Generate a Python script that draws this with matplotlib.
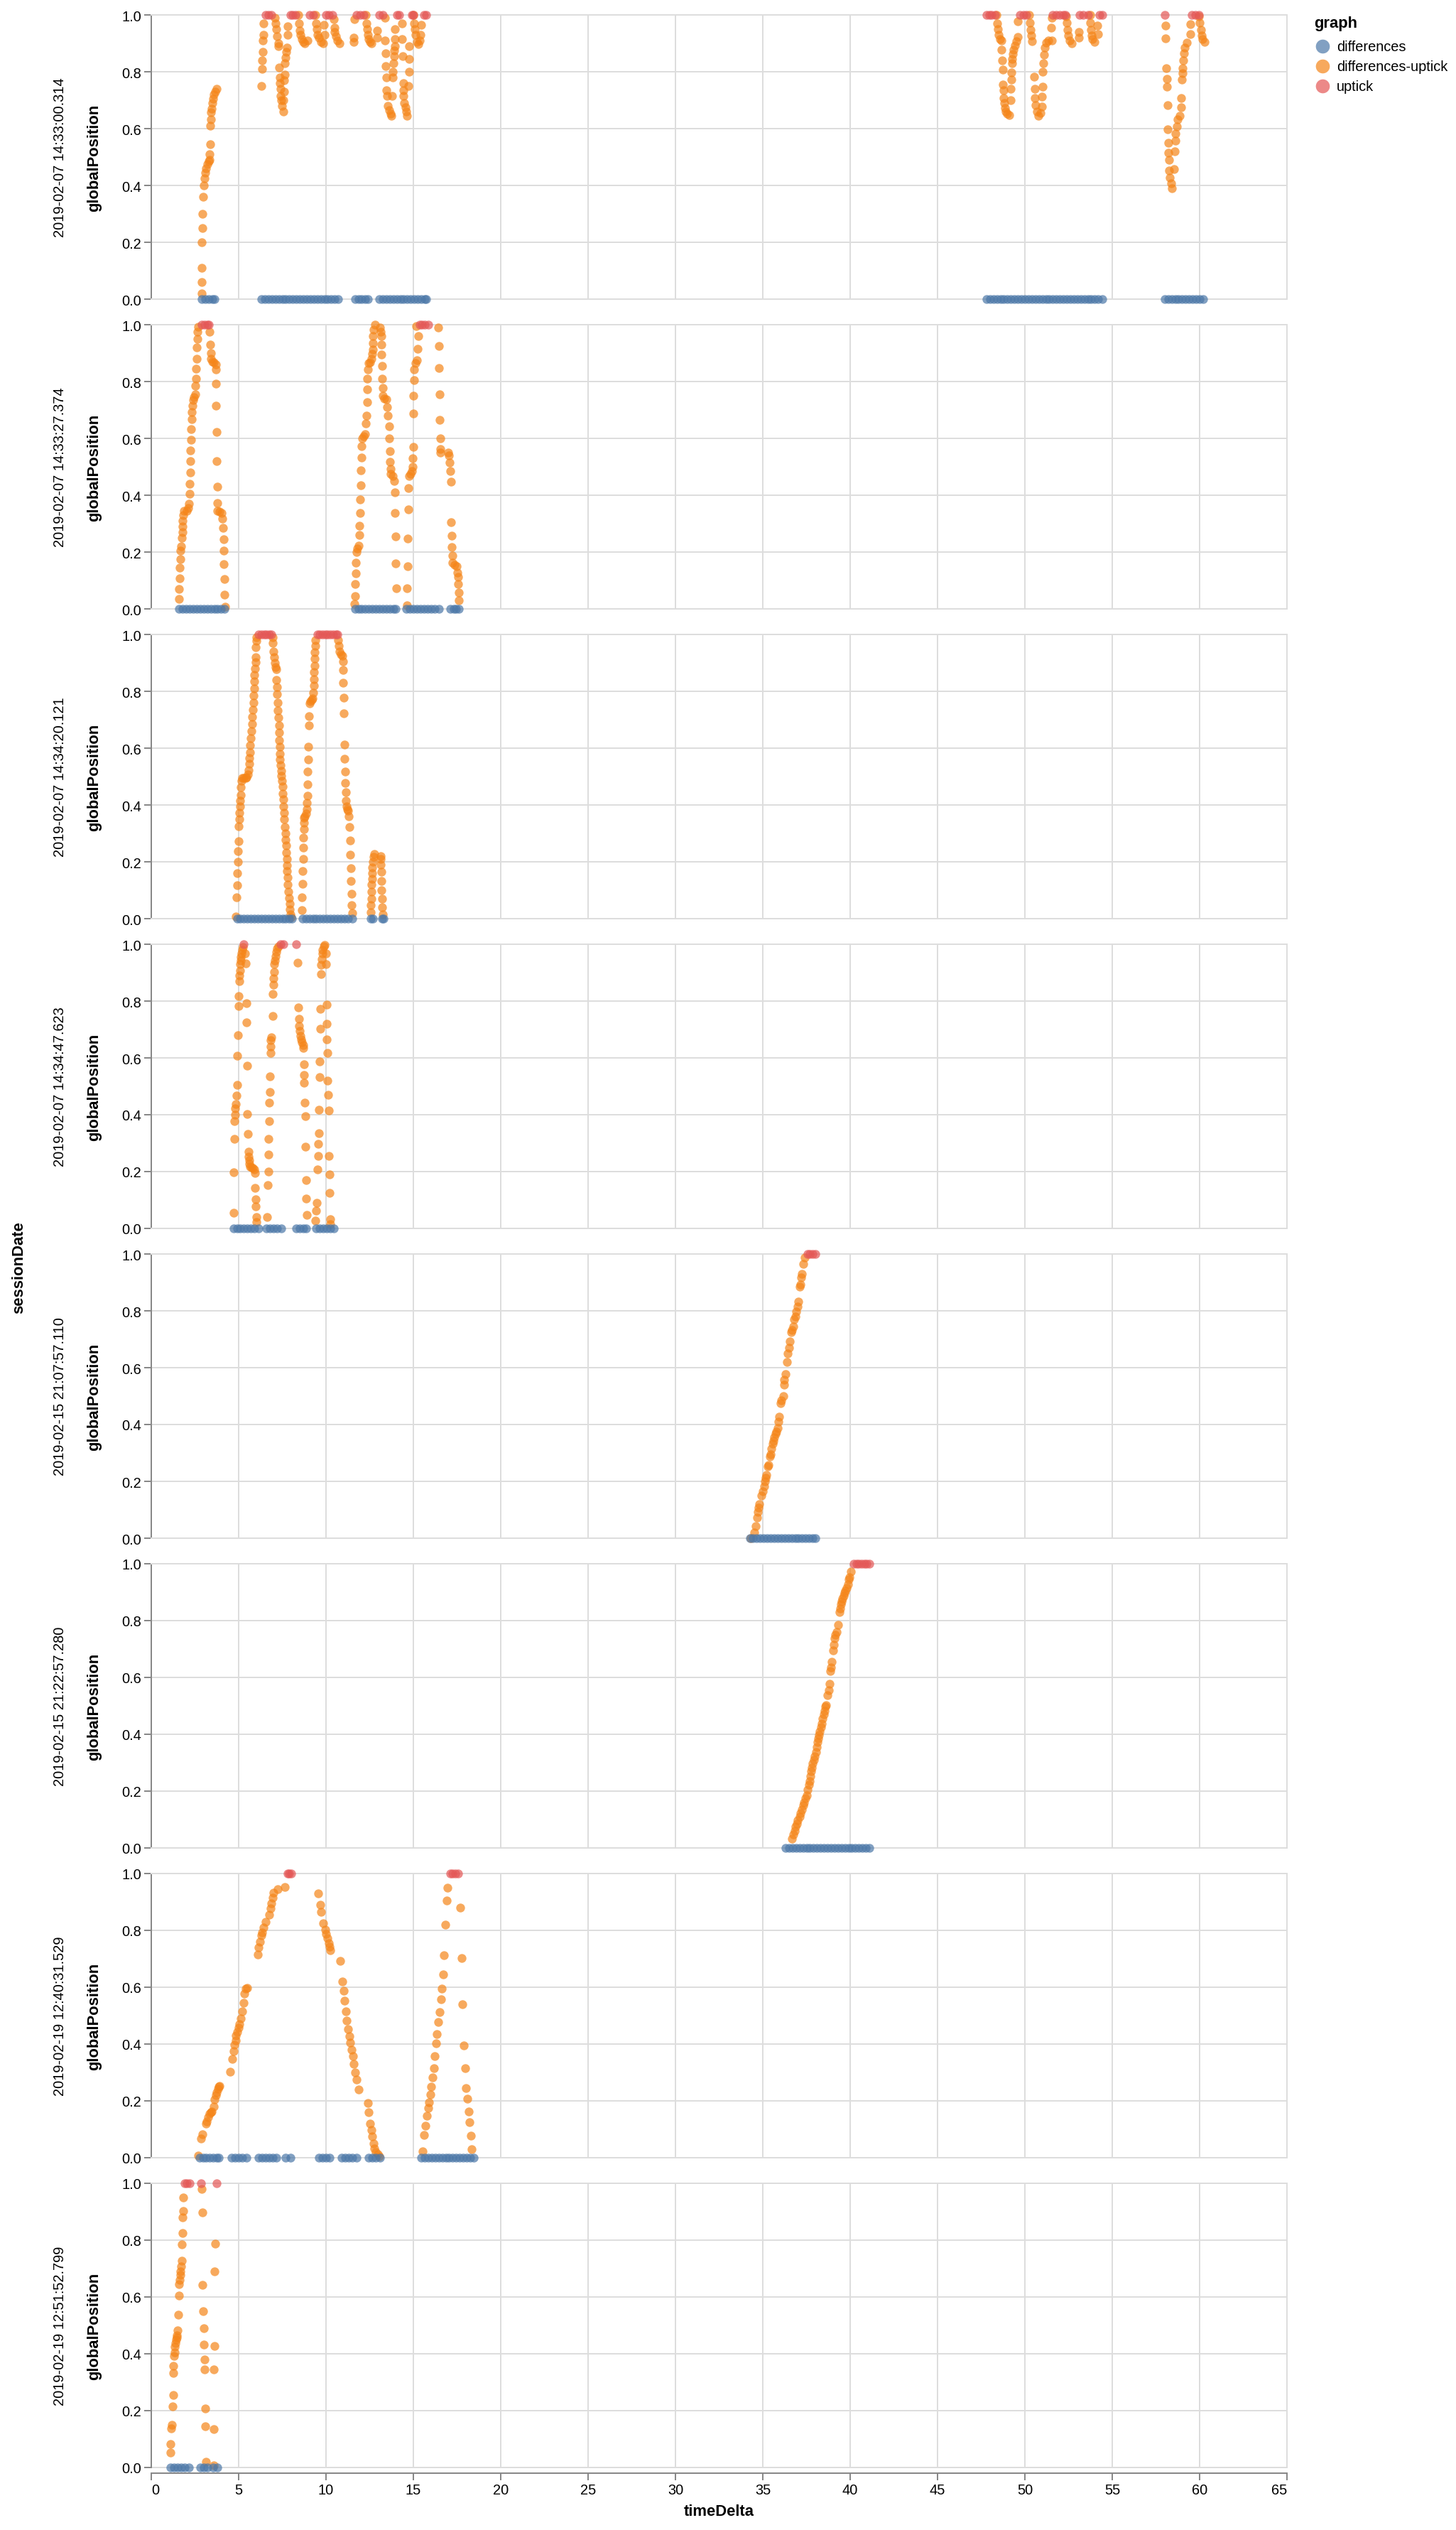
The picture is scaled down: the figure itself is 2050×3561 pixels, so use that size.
import numpy as np
import matplotlib
matplotlib.use("Agg")
import matplotlib.pyplot as plt

plt.rcParams["font.family"] = ["Liberation Sans", "DejaVu Sans"]

# ------- data -------
SESSIONS = [
    "2019-02-07 14:33:00.314",
    "2019-02-07 14:33:27.374",
    "2019-02-07 14:34:20.121",
    "2019-02-07 14:34:47.623",
    "2019-02-15 21:07:57.110",
    "2019-02-15 21:22:57.280",
    "2019-02-19 12:40:31.529",
    "2019-02-19 12:51:52.799",
]
GRAPHS = ["differences", "differences-uptick", "uptick"]
COLORS = {"differences": "#4c78a8", "differences-uptick": "#f58518", "uptick": "#e45756"}

X_TICKS = [0, 5, 10, 15, 20, 25, 30, 35, 40, 45, 50, 55, 60, 65]
Y_TICKS = [0.0, 0.2, 0.4, 0.6, 0.8, 1.0]

# "differences" points (all at globalPosition 0)
S1_DIFF = [2.9, 3.1, 3.3, 3.5, 3.6,
           6.3, 6.5, 6.7, 6.9, 7.1, 7.3, 7.5, 7.7, 7.9, 8.1, 8.3, 8.5, 8.7, 8.9, 9.1, 9.3, 9.5,
           9.7, 9.9, 10.1, 10.3, 10.5, 10.7,
           11.65, 11.85, 12.05, 12.25, 12.4,
           13.05, 13.25, 13.45, 13.65, 13.85, 14.05, 14.25, 14.45, 14.65, 14.85, 15.05, 15.25,
           15.45, 15.65, 15.75,
           47.8, 48.0, 48.2, 48.4, 48.6, 48.8, 49.0, 49.2, 49.4, 49.6, 49.8, 50.0, 50.2, 50.4,
           50.6, 50.8, 51.0, 51.2, 51.4, 51.6, 51.8, 52.0, 52.2, 52.4, 52.6, 52.8, 53.0, 53.2,
           53.4, 53.6, 53.8, 54.0, 54.2, 54.45,
           58.0, 58.2, 58.4, 58.6, 58.8, 59.0, 59.2, 59.4, 59.6, 59.8, 60.0, 60.2]
S2_DIFF = [1.6, 1.8, 2.0, 2.2, 2.4, 2.6, 2.8, 3.0, 3.2, 3.4, 3.6, 3.8, 4.0, 4.18,
           11.65, 11.85, 12.05, 12.25, 12.45, 12.65, 12.85, 13.05, 13.25, 13.45, 13.65, 13.85, 14.0,
           14.6, 14.8, 15.0, 15.2, 15.4, 15.6, 15.8, 16.0, 16.2, 16.45,
           17.1, 17.3, 17.45, 17.6]
S3_DIFF = [4.9, 5.1, 5.3, 5.5, 5.7, 5.9, 6.1, 6.3, 6.5, 6.7, 6.9, 7.1, 7.3, 7.5, 7.7, 7.9, 8.05,
           8.65, 8.85, 9.05, 9.25, 9.45, 9.65, 9.85, 10.05, 10.25, 10.45, 10.65, 10.85, 11.05,
           11.25, 11.5,
           12.55, 12.7, 13.2, 13.3]
S4_DIFF = [4.7, 4.9, 5.1, 5.3, 5.5, 5.7, 5.9, 6.15,
           6.6, 6.8, 7.0, 7.2, 7.45,
           8.3, 8.5, 8.7, 8.85,
           9.45, 9.65, 9.85, 10.05, 10.25, 10.45]
S5_DIFF = [34.25, 34.45, 34.65, 34.85, 35.05, 35.25, 35.45, 35.65, 35.85, 36.05, 36.25, 36.45,
           36.65, 36.85, 37.05, 37.25, 37.45, 37.65, 37.85, 38.0]
S6_DIFF = [36.3, 36.5, 36.7, 36.9, 37.1, 37.3, 37.5, 37.7, 37.9, 38.1, 38.3, 38.5, 38.7, 38.9,
           39.1, 39.3, 39.5, 39.7, 39.9, 40.1, 40.3, 40.5, 40.7, 40.9, 41.1]
S7_DIFF = [2.75, 2.95, 3.15, 3.35, 3.55, 3.75, 3.85,
           4.6, 4.8, 5.0, 5.2, 5.45,
           6.15, 6.35, 6.55, 6.75, 6.95, 7.15,
           7.7, 7.95,
           9.6, 9.8, 10.0, 10.2,
           10.9, 11.1, 11.3, 11.5, 11.75,
           12.45, 12.65, 12.85, 13.1,
           15.45, 15.65, 15.85, 16.05, 16.25, 16.45, 16.65, 16.85, 17.05, 17.25, 17.45, 17.65,
           17.85, 18.05, 18.25, 18.45]
S8_DIFF = [1.1, 1.3, 1.5, 1.7, 1.9, 2.15, 2.8, 3.0, 3.2, 3.55, 3.8]

# "uptick" points (all at globalPosition 1)
S1_UP = [6.55, 6.7, 6.85, 7.95, 8.1, 8.25, 9.05, 9.25, 10.0, 10.15, 10.35, 11.75, 11.95, 12.15,
         13.05, 13.25, 14.05, 14.2, 14.9, 15.0, 15.6, 15.75,
         47.8, 47.95, 48.1, 48.3, 49.7, 49.9, 50.1, 51.6, 51.8, 52.0, 52.2, 52.3,
         53.15, 53.35, 53.6, 54.25, 54.45, 58.0, 59.55, 59.75, 59.95]
S2_UP = [2.9, 3.05, 3.2, 3.3, 15.35, 15.5, 15.65, 15.85]
S3_UP = [6.15, 6.3, 6.45, 6.6, 6.75, 6.88, 9.5, 9.65, 9.8, 9.95, 10.1, 10.25, 10.4, 10.55, 10.65]
S4_UP = [5.3, 7.4, 7.55, 8.3]
S5_UP = [37.55, 37.7, 37.85, 38.0]
S6_UP = [40.2, 40.35, 40.5, 40.65, 40.8, 40.95, 41.1]
S7_UP = [7.8, 7.9, 8.0, 17.1, 17.25, 17.4, 17.55]
S8_UP = [1.9, 2.05, 2.2, 2.85, 3.76]

# "differences-uptick" points (timeDelta, globalPosition)
S1_DIFF_UP = [
    (2.88, 0.02), (2.87, 0.06), (2.87, 0.11), (2.9, 0.20), (2.92, 0.25), (2.93, 0.30),
    (2.97, 0.36), (3.0, 0.40), (3.04, 0.425), (3.09, 0.445), (3.14, 0.46), (3.21, 0.475),
    (3.28, 0.485), (3.32, 0.49), (3.35, 0.51), (3.37, 0.545), (3.39, 0.61), (3.41, 0.633),
    (3.43, 0.657), (3.45, 0.67), (3.48, 0.69), (3.54, 0.705), (3.59, 0.72), (3.66, 0.73),
    (3.73, 0.74),
    (6.3, 0.75), (6.33, 0.81), (6.35, 0.84), (6.37, 0.87), (6.4, 0.91), (6.42, 0.93), (6.44, 0.97),
    (7.08, 0.99), (7.12, 0.97), (7.15, 0.95), (7.2, 0.925), (7.26, 0.90), (7.29, 0.89),
    (7.33, 0.815), (7.35, 0.78), (7.37, 0.76), (7.38, 0.74), (7.4, 0.715), (7.44, 0.70),
    (7.47, 0.68), (7.55, 0.66), (7.58, 0.70), (7.6, 0.73), (7.62, 0.77), (7.64, 0.79),
    (7.66, 0.83), (7.69, 0.85), (7.73, 0.87), (7.77, 0.885), (7.79, 0.96), (7.81, 0.93),
    (8.41, 1.0), (8.45, 0.97), (8.49, 0.945), (8.52, 0.93), (8.6, 0.915), (8.68, 0.905),
    (8.77, 0.90), (8.95, 0.91),
    (9.4, 1.0), (9.44, 0.97), (9.47, 0.95), (9.53, 0.93), (9.6, 0.92), (9.71, 0.905),
    (9.82, 0.90), (9.89, 0.965), (9.91, 0.93),
    (10.43, 0.985), (10.47, 0.955), (10.5, 0.94), (10.58, 0.925), (10.65, 0.91), (10.76, 0.90),
    (11.58, 0.92), (11.58, 0.905), (11.62, 0.985),
    (12.29, 1.0), (12.33, 0.97), (12.35, 0.95), (12.38, 0.93), (12.44, 0.915), (12.51, 0.905),
    (12.6, 0.90), (12.92, 0.945), (12.92, 0.92),
    (13.37, 0.99), (13.39, 0.91), (13.41, 0.865), (13.43, 0.82), (13.44, 0.78), (13.46, 0.735),
    (13.48, 0.715), (13.53, 0.68), (13.6, 0.665), (13.68, 0.653), (13.73, 0.645), (13.78, 0.715),
    (13.82, 0.78), (13.84, 0.80), (13.86, 0.83), (13.89, 0.855), (13.91, 0.875), (13.93, 0.89),
    (13.95, 0.915), (13.95, 0.95),
    (14.36, 0.97), (14.36, 0.915), (14.4, 0.855), (14.42, 0.76), (14.44, 0.735), (14.45, 0.715),
    (14.49, 0.69), (14.54, 0.675), (14.6, 0.66), (14.65, 0.645), (14.72, 0.75), (14.74, 0.80),
    (14.76, 0.845), (14.77, 0.89),
    (15.0, 1.0), (15.04, 0.97), (15.07, 0.95), (15.13, 0.93), (15.2, 0.905), (15.27, 0.898),
    (15.36, 0.91), (15.41, 0.93), (15.44, 0.965),
    (48.38, 1.0), (48.41, 0.97), (48.44, 0.95), (48.5, 0.93), (48.58, 0.915), (48.67, 0.91),
    (48.67, 0.877), (48.71, 0.84), (48.74, 0.807), (48.75, 0.755), (48.78, 0.735), (48.8, 0.708),
    (48.83, 0.69), (48.87, 0.673), (48.92, 0.66), (49.0, 0.653), (49.09, 0.647), (49.18, 0.70),
    (49.2, 0.74), (49.21, 0.773), (49.22, 0.797), (49.25, 0.83), (49.28, 0.845), (49.3, 0.863),
    (49.35, 0.877), (49.42, 0.893), (49.51, 0.908), (49.58, 0.923), (49.6, 0.977),
    (50.26, 1.0), (50.29, 0.973), (50.31, 0.948), (50.37, 0.928), (50.42, 0.907), (50.52, 0.782),
    (50.56, 0.74), (50.58, 0.707), (50.62, 0.682), (50.69, 0.66), (50.77, 0.644), (50.9, 0.654),
    (50.96, 0.678), (50.98, 0.713), (51.0, 0.748), (51.03, 0.80), (51.06, 0.83), (51.09, 0.86),
    (51.14, 0.886), (51.21, 0.903), (51.34, 0.91), (51.55, 0.91), (51.52, 0.955), (51.55, 0.99),
    (52.36, 0.994), (52.39, 0.973), (52.43, 0.948), (52.49, 0.928), (52.57, 0.91), (52.68, 0.90),
    (53.07, 0.94), (53.07, 0.92),
    (53.72, 1.0), (53.75, 0.973), (53.77, 0.948), (53.82, 0.928), (53.88, 0.915), (53.97, 0.904),
    (54.16, 0.963), (54.17, 0.932),
    (58.03, 0.963), (58.06, 0.917), (58.1, 0.813), (58.11, 0.775), (58.12, 0.748), (58.16, 0.682),
    (58.19, 0.598), (58.22, 0.55), (58.23, 0.515), (58.26, 0.49), (58.27, 0.452), (58.31, 0.428),
    (58.37, 0.407), (58.43, 0.39), (58.52, 0.457), (58.57, 0.519), (58.6, 0.557), (58.63, 0.582),
    (58.68, 0.607), (58.75, 0.632), (58.85, 0.644), (58.93, 0.675), (58.96, 0.707), (58.98, 0.773),
    (59.01, 0.794), (59.02, 0.813), (59.05, 0.84), (59.09, 0.865), (59.16, 0.886), (59.25, 0.903),
    (59.46, 0.932), (59.48, 0.967), (59.97, 0.994), (60.01, 0.973), (60.07, 0.948), (60.12, 0.928),
    (60.18, 0.915), (60.27, 0.904),
]
S2_DIFF_UP = [
    (1.57, 0.034), (1.6, 0.07), (1.62, 0.108), (1.64, 0.146), (1.66, 0.175), (1.68, 0.205),
    (1.69, 0.22), (1.75, 0.25), (1.77, 0.27), (1.78, 0.29), (1.8, 0.31), (1.84, 0.33),
    (1.89, 0.345), (2.02, 0.345), (2.11, 0.355), (2.16, 0.37), (2.18, 0.405), (2.2, 0.44),
    (2.22, 0.48), (2.23, 0.52), (2.25, 0.558), (2.27, 0.595), (2.29, 0.633), (2.31, 0.668),
    (2.32, 0.693), (2.34, 0.714), (2.4, 0.735), (2.45, 0.744), (2.5, 0.756), (2.54, 0.786),
    (2.56, 0.81), (2.58, 0.845), (2.59, 0.88), (2.61, 0.92), (2.63, 0.95), (2.65, 0.976),
    (2.67, 0.993),
    (3.33, 0.976), (3.37, 0.93), (3.41, 0.90), (3.42, 0.88), (3.5, 0.87), (3.59, 0.867),
    (3.68, 0.86), (3.7, 0.842), (3.71, 0.792), (3.71, 0.714), (3.73, 0.622), (3.75, 0.52),
    (3.77, 0.43), (3.78, 0.372), (3.8, 0.346), (3.91, 0.342), (4.02, 0.338), (4.07, 0.317),
    (4.09, 0.284), (4.13, 0.246), (4.14, 0.206), (4.16, 0.157), (4.18, 0.104), (4.2, 0.05),
    (4.22, 0.008),
    (11.62, 0.017), (11.66, 0.045), (11.68, 0.087), (11.7, 0.125), (11.71, 0.163), (11.75, 0.2),
    (11.8, 0.213), (11.89, 0.222), (11.91, 0.26), (11.93, 0.293), (11.95, 0.337), (11.96, 0.385),
    (11.98, 0.435), (12.0, 0.487), (12.02, 0.533), (12.04, 0.573), (12.07, 0.60), (12.16, 0.607),
    (12.25, 0.616), (12.29, 0.652), (12.32, 0.681), (12.34, 0.727), (12.36, 0.772), (12.37, 0.811),
    (12.39, 0.843), (12.43, 0.864), (12.52, 0.868), (12.59, 0.88), (12.63, 0.897), (12.67, 0.913),
    (12.68, 0.934), (12.7, 0.959), (12.74, 0.983), (12.79, 1.0),
    (13.1, 0.99), (13.12, 0.975), (13.16, 0.96), (13.17, 0.93), (13.19, 0.895), (13.21, 0.855),
    (13.23, 0.811), (13.24, 0.778), (13.26, 0.749), (13.32, 0.74), (13.46, 0.737), (13.5, 0.71),
    (13.55, 0.68), (13.6, 0.643), (13.62, 0.601), (13.64, 0.555), (13.66, 0.517), (13.68, 0.492),
    (13.71, 0.476), (13.82, 0.467), (13.91, 0.45), (13.95, 0.41), (13.96, 0.338), (13.98, 0.255),
    (14.0, 0.159), (14.04, 0.073),
    (14.63, 0.013), (14.65, 0.073), (14.67, 0.15), (14.68, 0.247), (14.7, 0.35), (14.72, 0.424),
    (14.76, 0.467), (14.85, 0.474), (14.92, 0.484), (14.94, 0.5), (14.97, 0.53), (14.99, 0.57),
    (15.0, 0.687), (15.02, 0.75), (15.04, 0.805), (15.06, 0.843), (15.11, 0.864), (15.22, 0.875),
    (15.26, 0.915), (15.28, 0.96), (15.18, 0.995),
    (16.43, 0.99), (16.47, 0.925), (16.48, 0.847), (16.5, 0.755), (16.52, 0.666), (16.54, 0.60),
    (16.56, 0.563), (16.56, 0.55), (17.0, 0.551), (17.04, 0.54), (17.07, 0.514), (17.11, 0.485),
    (17.14, 0.447), (17.16, 0.306), (17.18, 0.258), (17.2, 0.217), (17.22, 0.187), (17.25, 0.162),
    (17.34, 0.154), (17.46, 0.15), (17.5, 0.128), (17.55, 0.112), (17.58, 0.087), (17.6, 0.058),
    (17.62, 0.029),
]
S3_DIFF_UP = [
    (4.85, 0.007), (4.88, 0.075), (4.91, 0.117), (4.93, 0.16), (4.96, 0.2), (4.96, 0.237),
    (4.99, 0.272), (5.01, 0.325), (5.03, 0.35), (5.05, 0.373), (5.07, 0.394), (5.09, 0.415),
    (5.12, 0.436), (5.13, 0.463), (5.16, 0.486), (5.22, 0.494), (5.3, 0.494), (5.39, 0.496),
    (5.46, 0.498), (5.51, 0.507), (5.55, 0.523), (5.59, 0.544), (5.62, 0.565), (5.65, 0.586),
    (5.67, 0.61), (5.7, 0.636), (5.73, 0.66), (5.76, 0.686), (5.78, 0.71), (5.81, 0.736),
    (5.84, 0.76), (5.86, 0.785), (5.88, 0.81), (5.89, 0.836), (5.9, 0.858), (5.93, 0.88),
    (5.96, 0.902), (5.97, 0.92), (5.98, 0.954), (6.0, 0.978), (6.02, 0.99),
    (6.94, 0.99), (6.97, 0.97), (6.99, 0.94), (7.02, 0.92), (7.06, 0.90), (7.1, 0.886),
    (7.14, 0.877), (7.17, 0.84), (7.18, 0.815), (7.2, 0.79), (7.22, 0.76), (7.25, 0.733),
    (7.28, 0.707), (7.3, 0.68), (7.32, 0.655), (7.33, 0.628), (7.34, 0.604), (7.36, 0.581),
    (7.37, 0.56), (7.4, 0.54), (7.42, 0.52), (7.45, 0.503), (7.48, 0.486), (7.51, 0.465),
    (7.53, 0.44), (7.55, 0.42), (7.57, 0.394), (7.59, 0.373), (7.61, 0.35), (7.64, 0.323),
    (7.67, 0.30), (7.69, 0.277), (7.71, 0.257), (7.72, 0.233), (7.75, 0.21), (7.76, 0.187),
    (7.78, 0.167), (7.8, 0.144), (7.82, 0.12), (7.86, 0.094), (7.88, 0.073), (7.91, 0.052),
    (7.94, 0.032), (7.96, 0.015), (7.99, 0.004),
    (8.6, 0.03), (8.63, 0.075), (8.65, 0.122), (8.67, 0.167), (8.68, 0.21), (8.68, 0.25),
    (8.69, 0.285), (8.72, 0.315), (8.73, 0.337), (8.76, 0.354), (8.8, 0.36), (8.87, 0.37),
    (8.9, 0.386), (8.92, 0.407), (8.94, 0.432), (8.95, 0.473), (8.96, 0.518), (8.98, 0.56),
    (8.99, 0.604), (9.02, 0.68), (9.04, 0.713), (9.07, 0.758), (9.12, 0.766), (9.18, 0.77),
    (9.23, 0.774), (9.26, 0.796), (9.29, 0.82), (9.3, 0.843), (9.31, 0.868), (9.33, 0.89),
    (9.34, 0.915), (9.35, 0.938), (9.37, 0.96), (9.39, 0.98),
    (10.71, 0.98), (10.75, 0.96), (10.78, 0.94), (10.85, 0.93), (10.93, 0.925), (10.96, 0.906),
    (10.97, 0.875), (10.98, 0.83), (11.0, 0.778), (11.01, 0.722), (11.04, 0.612), (11.07, 0.563),
    (11.08, 0.518), (11.09, 0.478), (11.12, 0.444), (11.15, 0.415), (11.16, 0.394), (11.2, 0.386),
    (11.28, 0.381), (11.32, 0.36), (11.35, 0.322), (11.37, 0.275), (11.4, 0.225), (11.43, 0.178),
    (11.44, 0.132), (11.45, 0.088), (11.48, 0.048), (11.5, 0.019),
    (12.56, 0.023), (12.57, 0.048), (12.59, 0.07), (12.6, 0.094), (12.61, 0.12), (12.63, 0.14),
    (12.64, 0.16), (12.65, 0.18), (12.68, 0.2), (12.71, 0.218), (12.76, 0.227),
    (13.11, 0.22), (13.14, 0.21), (13.15, 0.19), (13.16, 0.164), (13.18, 0.132), (13.19, 0.1),
    (13.21, 0.069), (13.22, 0.04), (13.25, 0.015),
]
S4_DIFF_UP = [
    (4.7, 0.054), (4.72, 0.197), (4.75, 0.314), (4.76, 0.378), (4.79, 0.40), (4.8, 0.422),
    (4.84, 0.437), (4.87, 0.468), (4.9, 0.506), (4.93, 0.608), (4.95, 0.679), (4.98, 0.782),
    (5.01, 0.818), (5.03, 0.87), (5.05, 0.89), (5.07, 0.907), (5.1, 0.93), (5.11, 0.943),
    (5.14, 0.956), (5.17, 0.968), (5.21, 0.98), (5.25, 0.99),
    (5.38, 0.968), (5.42, 0.933), (5.45, 0.792), (5.46, 0.724), (5.48, 0.573), (5.5, 0.402),
    (5.53, 0.333), (5.55, 0.27), (5.56, 0.253), (5.59, 0.24), (5.61, 0.227), (5.65, 0.218),
    (5.72, 0.214), (5.81, 0.212), (5.88, 0.208), (5.92, 0.196), (5.95, 0.142), (5.96, 0.103),
    (5.98, 0.077), (6.0, 0.039), (6.03, 0.023),
    (6.64, 0.039), (6.66, 0.152), (6.69, 0.2), (6.7, 0.26), (6.72, 0.315), (6.73, 0.378),
    (6.74, 0.442), (6.77, 0.481), (6.8, 0.535), (6.81, 0.617), (6.82, 0.64), (6.84, 0.662),
    (6.86, 0.673), (6.94, 0.747), (6.97, 0.825), (7.0, 0.858), (7.01, 0.88), (7.03, 0.903),
    (7.05, 0.93), (7.08, 0.943), (7.11, 0.958), (7.15, 0.972), (7.2, 0.985), (7.27, 0.993),
    (8.39, 0.935), (8.41, 0.777), (8.44, 0.737), (8.47, 0.712), (8.49, 0.694), (8.53, 0.677),
    (8.57, 0.665), (8.63, 0.654), (8.68, 0.646), (8.71, 0.634), (8.72, 0.578), (8.73, 0.54),
    (8.76, 0.513), (8.79, 0.443), (8.82, 0.395), (8.83, 0.288), (8.86, 0.17), (8.87, 0.105),
    (8.9, 0.048),
    (9.39, 0.027), (9.43, 0.062), (9.46, 0.089), (9.51, 0.208), (9.54, 0.254), (9.57, 0.297),
    (9.58, 0.335), (9.61, 0.418), (9.62, 0.533), (9.65, 0.587), (9.66, 0.702), (9.68, 0.772),
    (9.7, 0.895), (9.73, 0.928), (9.76, 0.947), (9.78, 0.968), (9.81, 0.98), (9.86, 0.992),
    (9.92, 0.997),
    (10.0, 0.968), (10.01, 0.93), (10.03, 0.787), (10.04, 0.72), (10.05, 0.665), (10.08, 0.618),
    (10.09, 0.52), (10.12, 0.47), (10.15, 0.415), (10.17, 0.256), (10.19, 0.19), (10.2, 0.125),
    (10.23, 0.033), (10.24, 0.014),
]
S5_DIFF_UP = [
    (34.32, 0.0), (34.52, 0.021), (34.59, 0.042), (34.66, 0.072), (34.7, 0.092), (34.75, 0.108),
    (34.8, 0.12), (34.93, 0.151), (35.0, 0.166), (35.07, 0.183), (35.11, 0.2), (35.16, 0.212),
    (35.2, 0.223), (35.3, 0.253), (35.34, 0.258), (35.41, 0.287), (35.45, 0.296), (35.5, 0.316),
    (35.57, 0.333), (35.61, 0.343), (35.67, 0.354), (35.72, 0.368), (35.78, 0.374), (35.84, 0.387),
    (35.89, 0.411), (35.94, 0.428), (36.02, 0.475), (36.06, 0.486), (36.16, 0.499), (36.2, 0.539),
    (36.23, 0.557), (36.29, 0.578), (36.39, 0.621), (36.44, 0.649), (36.5, 0.669), (36.54, 0.692),
    (36.61, 0.724), (36.66, 0.732), (36.73, 0.745), (36.8, 0.77), (36.87, 0.78), (36.91, 0.797),
    (36.98, 0.814), (37.04, 0.832), (37.13, 0.884), (37.15, 0.892), (37.21, 0.917), (37.25, 0.93),
    (37.33, 0.965), (37.38, 0.988),
]
S6_DIFF_UP = [
    (36.68, 0.032), (36.75, 0.047), (36.82, 0.061), (36.89, 0.075), (36.96, 0.086), (37.01, 0.098),
    (37.1, 0.111), (37.15, 0.123), (37.23, 0.136), (37.3, 0.15), (37.37, 0.161), (37.44, 0.175),
    (37.51, 0.186), (37.58, 0.205), (37.63, 0.223), (37.67, 0.236), (37.71, 0.252), (37.75, 0.269),
    (37.81, 0.283), (37.86, 0.298), (37.92, 0.311), (37.97, 0.323), (38.03, 0.338), (38.08, 0.356),
    (38.14, 0.373), (38.18, 0.386), (38.22, 0.398), (38.27, 0.411), (38.32, 0.425), (38.36, 0.438),
    (38.42, 0.455), (38.49, 0.469), (38.53, 0.482), (38.58, 0.498), (38.63, 0.502), (38.7, 0.538),
    (38.77, 0.556), (38.81, 0.578), (38.86, 0.622), (38.9, 0.635), (38.95, 0.656), (39.01, 0.695),
    (39.07, 0.716), (39.11, 0.738), (39.15, 0.749), (39.21, 0.76), (39.29, 0.786), (39.38, 0.831),
    (39.42, 0.843), (39.48, 0.858), (39.52, 0.868), (39.56, 0.878), (39.62, 0.888), (39.67, 0.897),
    (39.73, 0.905), (39.79, 0.915), (39.86, 0.928), (39.93, 0.945), (39.97, 0.953), (40.03, 0.972),
]
S7_DIFF_UP = [
    (2.69, 0.008), (2.83, 0.067), (2.92, 0.082), (3.12, 0.121), (3.19, 0.128), (3.26, 0.142),
    (3.33, 0.154), (3.4, 0.16), (3.46, 0.163), (3.57, 0.181), (3.63, 0.204), (3.68, 0.219),
    (3.74, 0.23), (3.81, 0.242), (3.88, 0.25), (3.92, 0.253),
    (4.53, 0.303), (4.63, 0.348), (4.7, 0.375), (4.77, 0.398), (4.82, 0.413), (4.84, 0.429),
    (4.91, 0.442), (4.99, 0.458), (5.06, 0.471), (5.13, 0.489), (5.2, 0.514), (5.27, 0.546),
    (5.34, 0.577), (5.41, 0.594), (5.48, 0.598),
    (6.08, 0.714), (6.15, 0.74), (6.23, 0.76), (6.29, 0.783), (6.36, 0.792), (6.43, 0.81),
    (6.54, 0.83), (6.76, 0.856), (6.83, 0.877), (6.88, 0.894), (6.94, 0.914), (7.01, 0.933),
    (7.22, 0.946), (7.65, 0.952),
    (9.55, 0.929), (9.66, 0.89), (9.73, 0.864), (9.84, 0.825), (9.94, 0.803), (10.01, 0.788),
    (10.08, 0.773), (10.16, 0.754), (10.2, 0.742), (10.25, 0.729), (10.82, 0.692), (10.93, 0.619),
    (11.01, 0.588), (11.05, 0.552), (11.12, 0.514), (11.19, 0.482), (11.26, 0.452), (11.33, 0.427),
    (11.4, 0.404), (11.46, 0.381), (11.53, 0.358), (11.6, 0.33), (11.67, 0.301), (11.74, 0.276),
    (11.86, 0.24),
    (12.38, 0.192), (12.45, 0.16), (12.52, 0.121), (12.59, 0.098), (12.65, 0.075), (12.71, 0.05),
    (12.78, 0.033), (12.85, 0.021), (12.95, 0.013), (13.06, 0.006),
    (15.51, 0.023), (15.61, 0.079), (15.69, 0.113), (15.78, 0.148), (15.84, 0.175), (15.89, 0.196),
    (15.96, 0.223), (16.03, 0.25), (16.1, 0.283), (16.18, 0.314), (16.23, 0.358), (16.29, 0.402),
    (16.36, 0.436), (16.43, 0.477), (16.5, 0.513), (16.57, 0.557), (16.63, 0.594), (16.69, 0.644),
    (16.74, 0.713), (16.81, 0.821), (16.9, 0.904), (16.95, 0.95),
    (17.69, 0.879), (17.76, 0.702), (17.82, 0.54), (17.88, 0.394), (17.95, 0.315), (18.02, 0.246),
    (18.09, 0.208), (18.16, 0.163), (18.23, 0.125), (18.29, 0.077), (18.34, 0.029),
]
S8_DIFF_UP = [
    (1.08, 0.052), (1.1, 0.083), (1.14, 0.137), (1.17, 0.151), (1.2, 0.215), (1.24, 0.256),
    (1.25, 0.333), (1.28, 0.358), (1.3, 0.393), (1.33, 0.405), (1.36, 0.424), (1.38, 0.437),
    (1.41, 0.449), (1.45, 0.457), (1.48, 0.466), (1.51, 0.482), (1.55, 0.538), (1.57, 0.605),
    (1.6, 0.644), (1.63, 0.661), (1.65, 0.678), (1.68, 0.69), (1.71, 0.707), (1.73, 0.727),
    (1.75, 0.785), (1.77, 0.824), (1.79, 0.881), (1.81, 0.902), (1.84, 0.95),
    (2.88, 0.979), (2.92, 0.898), (2.93, 0.642), (2.97, 0.549), (3.0, 0.49), (3.01, 0.433),
    (3.04, 0.381), (3.05, 0.345), (3.08, 0.207), (3.09, 0.145), (3.12, 0.02),
    (3.66, 0.788), (3.63, 0.69), (3.62, 0.428), (3.59, 0.345), (3.58, 0.134), (3.58, 0.008),
]

DIFF_X = [S1_DIFF, S2_DIFF, S3_DIFF, S4_DIFF, S5_DIFF, S6_DIFF, S7_DIFF, S8_DIFF]
UP_X = [S1_UP, S2_UP, S3_UP, S4_UP, S5_UP, S6_UP, S7_UP, S8_UP]
DIFF_UP_PTS = [S1_DIFF_UP, S2_DIFF_UP, S3_DIFF_UP, S4_DIFF_UP,
               S5_DIFF_UP, S6_DIFF_UP, S7_DIFF_UP, S8_DIFF_UP]

# ------- layout (pixels of the 2050x3562 output) -------
W, H = 2050, 3562
PLOT_LEFT, PLOT_W = 213, 1599
PANEL_TOP0, PANEL_STEP, PANEL_H = 22, 436, 400
PX = 0.72  # points per pixel at dpi 100

GRID = "#dddddd"
AXIS = "#888888"
LABEL_FS = 10 * 2 * PX   # vega 10px labels, scale 2
TITLE_FS = 11 * 2 * PX   # vega 11px bold titles


def fx(px):
    return px / W


def fy(py):
    return 1 - py / H


def style_panel(ax, bottom):
    ax.set_xlim(0, 65)
    ax.set_ylim(0, 1)
    ax.set_xticks(X_TICKS)
    ax.set_yticks(Y_TICKS)
    ax.set_yticklabels([f"{v:.1f}" for v in Y_TICKS])
    ax.grid(True, color=GRID, linewidth=2 * PX)
    ax.set_axisbelow(True)
    for side in ["top", "right", "bottom"]:
        ax.spines[side].set_color(GRID)
        ax.spines[side].set_linewidth(2 * PX)
    ax.spines["left"].set_color(AXIS)
    ax.spines["left"].set_linewidth(2 * PX)
    ax.tick_params(axis="y", length=10 * PX, width=2 * PX, color=AXIS,
                   labelsize=LABEL_FS, pad=4 * PX, labelcolor="black")
    if not bottom:
        ax.tick_params(axis="x", length=0, labelbottom=False)
        return
    # x axis sits a little below the panel, like vega's facet footer
    ax.spines["bottom"].set_position(("outward", 8 * PX))
    ax.spines["bottom"].set_color(AXIS)
    ax.axhline(0, color=GRID, linewidth=2 * PX, clip_on=False, zorder=0.9)
    ax.tick_params(axis="x", length=10 * PX, width=2 * PX, color=AXIS,
                   labelsize=LABEL_FS, pad=4 * PX, labelcolor="black")
    labels = ax.set_xticklabels([str(t) for t in X_TICKS])
    labels[0].set_horizontalalignment("left")
    labels[-1].set_horizontalalignment("right")


def main():
    fig = plt.figure(figsize=(W / 100, H / 100), dpi=100)

    for i, session in enumerate(SESSIONS):
        top = PANEL_TOP0 + i * PANEL_STEP
        ax = fig.add_axes([fx(PLOT_LEFT), fy(top + PANEL_H), PLOT_W / W, PANEL_H / H])
        style_panel(ax, bottom=(i == len(SESSIONS) - 1))

        pts = np.array(DIFF_UP_PTS[i])
        ax.scatter(pts[:, 0], pts[:, 1], s=80, color=COLORS["differences-uptick"],
                   alpha=0.7, linewidths=0, clip_on=False, zorder=3)
        dx = np.array(DIFF_X[i])
        ax.scatter(dx, np.zeros(len(dx)), s=80, color=COLORS["differences"],
                   alpha=0.7, linewidths=0, clip_on=False, zorder=4)
        ux = np.array(UP_X[i])
        ax.scatter(ux, np.ones(len(ux)), s=80, color=COLORS["uptick"],
                   alpha=0.7, linewidths=0, clip_on=False, zorder=5)

        mid = fy(top + PANEL_H / 2)
        fig.text(fx(133), mid, "globalPosition", rotation=90, ha="center", va="center",
                 fontsize=TITLE_FS, fontweight="bold")
        fig.text(fx(85), mid, session, rotation=90, ha="center", va="center",
                 fontsize=LABEL_FS)

    # shared titles
    fig.text(fx(27), fy(1784), "sessionDate", rotation=90, ha="center", va="center",
             fontsize=TITLE_FS, fontweight="bold")
    fig.text(fx(PLOT_LEFT + PLOT_W / 2), fy(3536), "timeDelta", ha="center", va="center",
             fontsize=TITLE_FS, fontweight="bold")

    # legend drawn on a pixel overlay
    leg = fig.add_axes([0, 0, 1, 1])
    leg.set_xlim(0, W)
    leg.set_ylim(H, 0)
    leg.axis("off")
    leg.text(1850, 33, "graph", ha="left", va="center", fontsize=TITLE_FS, fontweight="bold")
    for k, g in enumerate(GRAPHS):
        y = 66 + k * 28
        leg.scatter([1862], [y], s=200, color=COLORS[g], alpha=0.7, linewidths=0)
        leg.text(1882, y, g, ha="left", va="center", fontsize=LABEL_FS)

    fig.savefig("out.png", dpi=100)


if __name__ == "__main__":
    main()
